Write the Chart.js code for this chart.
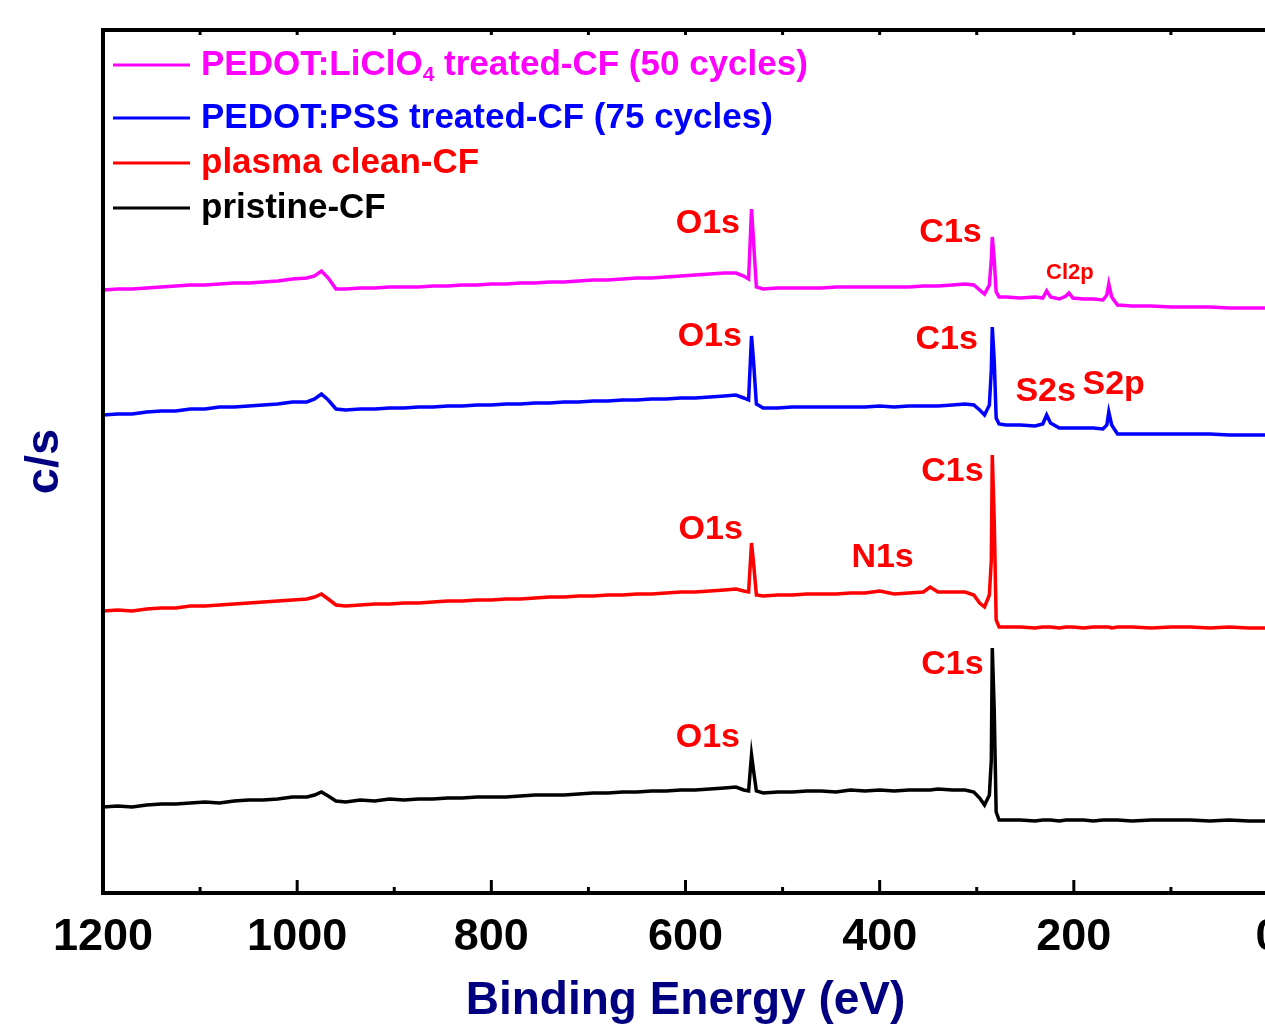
<!DOCTYPE html>
<html>
<head>
<meta charset="utf-8">
<script src="https://cdn.jsdelivr.net/npm/chart.js@4.4.1/dist/chart.umd.min.js"></script>
<style>
  html, body { margin: 0; padding: 0; background: #fff; overflow: hidden; }
  #wrap { width: 1300px; height: 1024px; }
</style>
</head>
<body>
<div id="wrap"><canvas id="xps" width="1300" height="1024"></canvas></div>
<script>
// binding energy grid (eV), shared by all four spectra
const energies = [
  1200, 1185, 1170, 1155, 1140, 1125, 1110, 1095, 1080, 1065, 1050, 1035, 1020, 1005, 990, 982, 975, 968, 960, 950,
  935, 920, 905, 890, 875, 860, 845, 830, 815, 800, 785, 770, 755, 740, 725, 710, 695, 680, 665, 650,
  635, 620, 605, 590, 575, 560, 548, 540, 535, 532, 530, 527, 520, 505, 490, 475, 460, 445, 430, 415,
  400, 385, 370, 355, 348, 340, 325, 312, 303, 297, 292, 287, 285, 284, 282, 280, 277, 270, 255, 240,
  232, 228, 224, 215, 208, 205, 201, 190, 180, 170, 166, 164, 161, 155, 140, 120, 100, 80, 60, 40,
  20, 0
];

// intensities (c/s, arbitrary offset stacking as in the figure)
const pristine = [
  86, 87, 86, 88, 89, 89, 90, 91, 90, 92, 93, 93, 94, 96, 96, 98, 101, 97, 92, 91,
  93, 92, 94, 93, 94, 94, 95, 95, 96, 96, 96, 97, 98, 98, 98, 99, 100, 100, 101, 101,
  102, 102, 103, 103, 104, 105, 106, 103, 102, 138, 123, 102, 100, 101, 101, 102, 102, 101, 103, 102,
  103, 102, 103, 103, 103, 104, 103, 103, 101, 95, 88, 98, 133, 245, 183, 81, 73, 73, 73, 72,
  73, 73, 73, 72, 73, 73, 73, 73, 72, 73, 73, 73, 73, 73, 72, 73, 73, 73, 72, 73,
  72, 72
];
const plasma = [
  282, 283, 282, 284, 285, 285, 287, 287, 288, 289, 290, 291, 292, 293, 294, 296, 299, 294, 288, 287,
  288, 289, 289, 290, 290, 291, 292, 292, 293, 293, 294, 294, 295, 296, 296, 297, 297, 298, 298, 299,
  299, 300, 301, 301, 302, 303, 304, 302, 301, 350, 331, 298, 297, 298, 298, 299, 299, 299, 300, 300,
  302, 299, 300, 301, 306, 301, 301, 301, 298, 290, 286, 298, 333, 438, 373, 273, 266, 266, 266, 265,
  266, 266, 266, 265, 266, 266, 266, 265, 266, 266, 266, 266, 265, 266, 266, 265, 266, 266, 265, 266,
  265, 265
];
const pss = [
  478, 479, 479, 481, 482, 482, 484, 484, 486, 486, 487, 488, 489, 491, 491, 494, 499, 493, 484, 483,
  484, 484, 485, 485, 486, 486, 487, 487, 488, 488, 489, 489, 490, 490, 491, 491, 492, 492, 493, 493,
  494, 494, 495, 495, 496, 497, 498, 495, 493, 557, 533, 489, 485, 485, 486, 486, 486, 486, 486, 486,
  487, 486, 487, 487, 487, 487, 488, 489, 488, 483, 478, 488, 523, 566, 533, 475, 469, 468, 468, 467,
  469, 478, 470, 465, 465, 465, 465, 465, 465, 464, 468, 481, 468, 459, 459, 459, 459, 459, 459, 458,
  458, 458
];
const liclo4 = [
  603, 604, 604, 605, 606, 607, 608, 608, 609, 610, 610, 611, 612, 614, 615, 617, 622, 615, 604, 604,
  605, 605, 606, 606, 606, 607, 607, 608, 608, 609, 609, 610, 610, 611, 611, 612, 613, 613, 614, 615,
  615, 616, 617, 618, 619, 620, 620, 617, 614, 684, 653, 606, 604, 605, 605, 605, 605, 606, 606, 606,
  606, 606, 606, 607, 607, 607, 608, 609, 608, 603, 599, 608, 633, 656, 633, 601, 596, 596, 595, 596,
  595, 602, 596, 594, 597, 600, 595, 594, 594, 593, 598, 609, 596, 588, 587, 587, 586, 586, 586, 585,
  585, 585
];

const seriesNames = [
  ["PEDOT:LiClO", "4", " treated-CF (50 cycles)"],
  ["PEDOT:PSS treated-CF (75 cycles)"],
  ["plasma clean-CF"],
  ["pristine-CF"]
];
const seriesColors = ["#ff00ff", "#0000ff", "#ff0000", "#000000"];
const seriesValues = [liclo4, pss, plasma, pristine];

// peak labels: text, energy (eV), level (c/s), font size
const peakTexts = ["O1s", "C1s", "Cl2p", "O1s", "C1s", "S2s", "S2p", "C1s", "O1s", "N1s", "C1s", "O1s"];
const peakEnergies = [577, 327, 204, 575, 331, 229, 159, 325, 574, 397, 325, 577];
const peakLevels = [669, 660, 620, 556, 553, 501, 508, 421, 363, 335, 228, 155];
const peakSizes = [34, 34, 22, 34, 34, 34, 34, 34, 34, 34, 34, 34];

const FONT = "'Liberation Sans', Arial, sans-serif";

const frameAndTicks = {
  id: "frameAndTicks",
  afterDraw(chart) {
    const { ctx, chartArea: a, scales } = chart;
    const x = scales.x;
    ctx.save();
    ctx.strokeStyle = "#000";
    ctx.lineWidth = 4;
    ctx.lineCap = "butt";
    ctx.beginPath();
    ctx.moveTo(a.left, a.top);
    ctx.lineTo(a.right, a.top);
    ctx.moveTo(a.left, a.top - 2);
    ctx.lineTo(a.left, a.bottom + 2);
    ctx.moveTo(a.left - 2, a.bottom);
    ctx.lineTo(a.right, a.bottom);
    ctx.stroke();
    ctx.lineWidth = 3;
    ctx.beginPath();
    for (let e = 100; e < 1200; e += 100) {
      const px = x.getPixelForValue(e);
      const major = e % 200 === 0;
      ctx.moveTo(px, a.bottom);
      ctx.lineTo(px, a.bottom - (major ? 13 : 6));
      ctx.moveTo(px, a.top);
      ctx.lineTo(px, a.top + 5);
    }
    ctx.stroke();
    ctx.restore();
  }
};

const peakLabelPlugin = {
  id: "peakLabels",
  afterDatasetsDraw(chart) {
    const { ctx, scales } = chart;
    ctx.save();
    ctx.fillStyle = "#ff0000";
    ctx.textAlign = "center";
    ctx.textBaseline = "middle";
    peakTexts.forEach((t, i) => {
      ctx.font = "bold " + peakSizes[i] + "px " + FONT;
      ctx.fillText(t, scales.x.getPixelForValue(peakEnergies[i]), scales.y.getPixelForValue(peakLevels[i]));
    });
    ctx.restore();
  }
};

const insideLegend = {
  id: "insideLegend",
  afterDraw(chart) {
    const { ctx } = chart;
    const rows = [65, 118, 163, 208];
    ctx.save();
    ctx.textBaseline = "middle";
    ctx.textAlign = "left";
    chart.data.datasets.forEach((ds, i) => {
      const y = rows[i];
      ctx.strokeStyle = ds.borderColor;
      ctx.lineWidth = 3;
      ctx.beginPath();
      ctx.moveTo(113, y);
      ctx.lineTo(190, y);
      ctx.stroke();
      ctx.fillStyle = ds.borderColor;
      let tx = 201;
      seriesNames[i].forEach((part, k) => {
        const sub = seriesNames[i].length === 3 && k === 1;
        ctx.font = "bold " + (sub ? 21 : 35) + "px " + FONT;
        ctx.fillText(part, tx, sub ? y + 10 : y);
        tx += ctx.measureText(part).width;
      });
    });
    ctx.restore();
  }
};

new Chart(document.getElementById("xps").getContext("2d"), {
  type: "line",
  data: {
    datasets: seriesValues.map((vals, i) => ({
      label: seriesNames[i].join(""),
      data: energies.map((e, k) => ({ x: e, y: vals[k] })),
      borderColor: seriesColors[i],
      borderWidth: 3.5,
      pointRadius: 0,
      tension: 0,
      fill: false
    }))
  },
  options: {
    responsive: false,
    animation: false,
    devicePixelRatio: 1,
    layout: { padding: { top: 30, right: 32, left: 0, bottom: 0 } },
    plugins: { legend: { display: false }, tooltip: { enabled: false } },
    scales: {
      x: {
        type: "linear",
        reverse: true,
        min: 0,
        max: 1200,
        afterFit(scale) { scale.height = 131; },
        grid: { display: false, drawTicks: false },
        border: { display: false },
        ticks: {
          stepSize: 200,
          padding: 18,
          color: "#000",
          callback: (v) => String(v),
          font: { family: FONT, size: 45, weight: "bold" }
        },
        title: {
          display: true,
          text: "Binding Energy (eV)",
          color: "#000080",
          padding: { top: 0, bottom: -5 },
          font: { family: FONT, size: 46, weight: "bold" }
        }
      },
      y: {
        min: 0,
        max: 863,
        afterFit(scale) { scale.width = 103; },
        grid: { display: false, drawTicks: false },
        border: { display: false },
        ticks: { display: false },
        title: {
          display: true,
          text: "c/s",
          color: "#000080",
          padding: { top: 17, bottom: 0 },
          font: { family: FONT, size: 47, weight: "bold" }
        }
      }
    }
  },
  plugins: [frameAndTicks, peakLabelPlugin, insideLegend]
});
</script>
</body>
</html>
